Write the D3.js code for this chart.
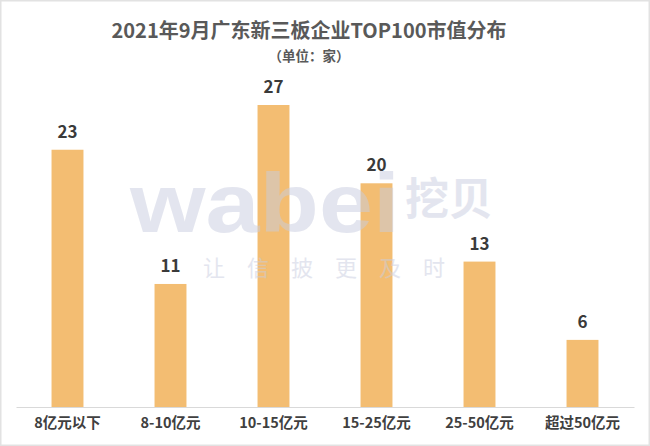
<!DOCTYPE html>
<html>
<head>
<meta charset="utf-8">
<script src="https://cdn.jsdelivr.net/npm/d3@7/dist/d3.min.js"></script>
<style>
  body { margin: 0; background: #fff; }
  svg { display: block; font-family: "Noto Sans CJK SC", "Noto Sans", sans-serif; }
</style>
</head>
<body>
<script>
// data
var categories = ["8亿元以下", "8-10亿元", "10-15亿元", "15-25亿元", "25-50亿元", "超过50亿元"];
var values = [23, 11, 27, 20, 13, 6];
var title = "2021年9月广东新三板企业TOP100市值分布";
var subtitle = "（单位：家）";

var width = 650, height = 446;
var margin = {top: 0, right: 16, bottom: 39, left: 16};

var svg = d3.select("body").append("svg")
  .attr("width", width)
  .attr("height", height);

// light frame around picture
svg.append("rect")
  .attr("x", 0.5).attr("y", 0.5)
  .attr("width", width - 1).attr("height", height - 1)
  .attr("fill", "none")
  .attr("stroke", "#e2e2e2")
  .attr("stroke-width", 2);

var x = d3.scaleBand()
  .domain(categories)
  .range([margin.left, width - margin.right])
  .paddingInner(0.69)
  .paddingOuter(0.345);

var y = d3.scaleLinear()
  .domain([0, 27])
  .range([height - margin.bottom, 105]);

var data = categories.map(function(c, i) { return {cat: c, value: values[i]}; });

// bars
svg.selectAll(".bar")
  .data(data)
  .enter().append("rect")
  .attr("class", "bar")
  .attr("x", function(d) { return x(d.cat); })
  .attr("y", function(d) { return y(d.value); })
  .attr("width", x.bandwidth())
  .attr("height", function(d) { return y(0) - y(d.value); })
  .attr("fill", "#f3bd72");

// value labels
svg.selectAll(".val")
  .data(data)
  .enter().append("text")
  .attr("x", function(d) { return x(d.cat) + x.bandwidth() / 2; })
  .attr("y", function(d) { return y(d.value) - 12; })
  .attr("text-anchor", "middle")
  .attr("font-size", "17px")
  .attr("font-weight", "bold")
  .attr("fill", "#3a3a3a")
  .text(function(d) { return d.value; });

// x axis
var xAxis = svg.append("g")
  .attr("transform", "translate(0," + y(0) + ")")
  .call(d3.axisBottom(x).tickSize(0).tickPadding(11));
xAxis.select(".domain").attr("stroke", "#d9d9d9").attr("stroke-width", 1);
xAxis.selectAll("text")
  .attr("font-family", "'Noto Sans CJK SC', sans-serif")
  .attr("font-size", "14.5px")
  .attr("font-weight", "bold")
  .attr("fill", "#404040");

// watermark
var wm = svg.append("g").attr("opacity", 0.5).attr("pointer-events", "none");
wm.append("text")
  .attr("x", 130).attr("y", 232)
  .attr("font-family", "'Liberation Sans', Arial, sans-serif")
  .attr("font-size", "84px")
  .attr("font-weight", "bold")
  .attr("textLength", 270)
  .attr("lengthAdjust", "spacingAndGlyphs")
  .attr("fill", "#c9cde0")
  .text("wabei");
wm.append("text")
  .attr("x", 405).attr("y", 215)
  .attr("font-size", "44px")
  .attr("font-weight", "bold")
  .attr("fill", "#c9cde0")
  .text("挖贝");
wm.append("text")
  .attr("x", 203).attr("y", 276)
  .attr("font-size", "22px")
  .attr("letter-spacing", "22px")
  .attr("fill", "#c9cde0")
  .text("让信披更及时");

// title
svg.append("text")
  .attr("x", 309).attr("y", 38)
  .attr("text-anchor", "middle")
  .attr("font-size", "20px")
  .attr("font-weight", "bold")
  .attr("fill", "#595959")
  .text(title);

svg.append("text")
  .attr("x", 309).attr("y", 61)
  .attr("text-anchor", "middle")
  .attr("font-size", "13.5px")
  .attr("font-weight", "bold")
  .attr("fill", "#595959")
  .text(subtitle);
</script>
</body>
</html>
